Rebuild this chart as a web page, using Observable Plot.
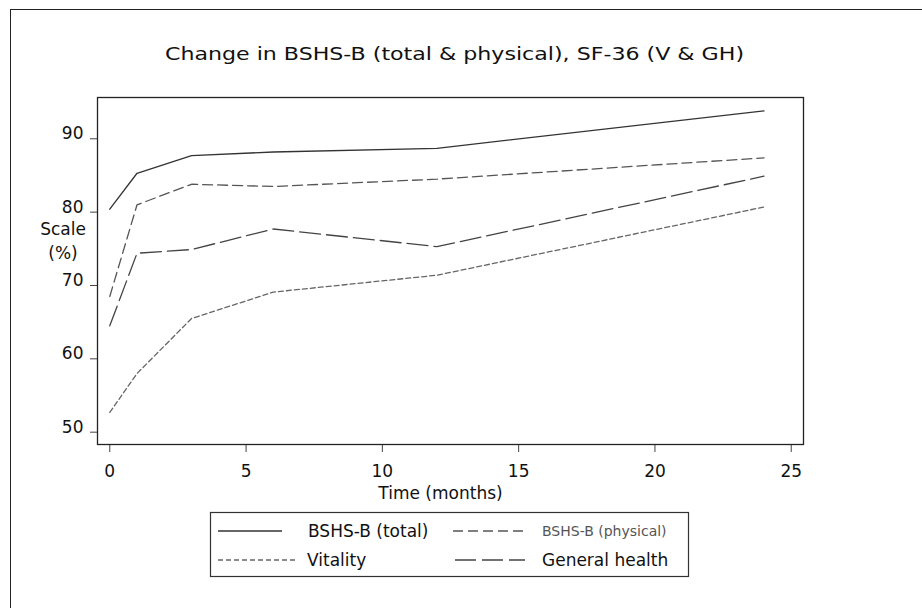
<!DOCTYPE html>
<html>
<head>
<meta charset="utf-8">
<script src="https://cdn.jsdelivr.net/npm/d3@7"></script>
<script src="https://cdn.jsdelivr.net/npm/@observablehq/plot@0.6"></script>
<style>
  html, body { margin: 0; padding: 0; background: #fff; }
  #wrap { position: relative; width: 922px; height: 608px; overflow: hidden; background: #fff; font-family: "DejaVu Sans", sans-serif; }
  #outer { position: absolute; left: 10px; top: 9px; width: 920px; height: 610px; border-top: 1.5px solid #222; border-left: 1.5px solid #222; z-index: 10; pointer-events: none; }
  #title { position: absolute; left: 0; top: 0; }
  #chart { position: absolute; left: 0; top: 80px; }
  #legend { position: absolute; left: 0; top: 500px; }
</style>
</head>
<body>
<div id="wrap">
  <div id="title"></div>
  <div id="chart"></div>
  <div id="legend"></div>
  <div id="outer"></div>
</div>
<script>
// ---- data ----
const titleText = "Change in BSHS-B (total & physical), SF-36 (V & GH)";
const months = [0, 1, 3, 6, 12, 24];
const seriesNames = ["BSHS-B (total)", "BSHS-B (physical)", "Vitality", "General health"];
const bshsTotal    = [80.4, 85.3, 87.7, 88.2, 88.7, 93.8];
const bshsPhysical = [68.5, 81.0, 83.8, 83.5, 84.5, 87.4];
const vitality     = [52.7, 58.0, 65.5, 69.1, 71.4, 80.7];
const generalHealth= [64.5, 74.4, 74.9, 77.7, 75.3, 84.9];
const xTicks = [0, 5, 10, 15, 20, 25];
const yTicks = [50, 60, 70, 80, 90];
const xLabel = "Time (months)";
const yLabel = "Scale\n(%)";

// ---- styles (not data) ----
const styles = {
  "BSHS-B (total)":    {stroke: "#333", dash: null,   values: bshsTotal},
  "BSHS-B (physical)": {stroke: "#555", dash: "10,5", values: bshsPhysical},
  "Vitality":          {stroke: "#666", dash: "5,3",  values: vitality},
  "General health":    {stroke: "#444", dash: "21,6", values: generalHealth}
};

const rows = [];
for (const name of seriesNames) {
  styles[name].values.forEach((v, i) => rows.push({series: name, month: months[i], value: v}));
}

// ---- title ----
const tsvg = d3.create("svg").attr("width", 922).attr("height", 80);
tsvg.append("text")
  .attr("transform", "translate(454.5,60) scale(1.23,1)")
  .attr("text-anchor", "middle")
  .attr("font-family", "DejaVu Sans, sans-serif")
  .attr("font-size", 18)
  .attr("fill", "#111")
  .text(titleText);
document.getElementById("title").append(tsvg.node());

// ---- chart ----
const font = 17;
const chart = Plot.plot({
  width: 922,
  height: 425,
  marginTop: 17,
  marginBottom: 61,
  marginLeft: 97,
  marginRight: 119,
  style: {fontFamily: "DejaVu Sans, sans-serif", fontSize: font + "px", color: "#111", background: "transparent"},
  x: {domain: [-0.45, 25.45], ticks: xTicks},
  y: {domain: [48.32, 95.63], ticks: yTicks},
  marks: [
    Plot.axisX({ticks: xTicks, tickSize: 8, tickPadding: 12, label: null, fontSize: font, stroke: "#444", tickFormat: d => String(d)}),
    Plot.axisY({ticks: yTicks, tickSize: 7, label: null, stroke: "#444", tickFormat: () => ""}),
    Plot.text(yTicks, {y: d => d, text: d => String(d), frameAnchor: "left", dx: -14, dy: -5, textAnchor: "end", fontSize: font, fill: "#111"}),
    ...seriesNames.map(name => Plot.line(rows.filter(r => r.series === name), {
      x: "month", y: "value",
      stroke: styles[name].stroke,
      strokeWidth: 1.3,
      strokeDasharray: styles[name].dash,
      strokeLinejoin: "miter"
    })),
    Plot.frame({stroke: "#222", strokeWidth: 1.3}),
    Plot.text([xLabel], {frameAnchor: "bottom", dx: -10, dy: 49, fontSize: font, fill: "#111", lineAnchor: "middle"}),
    Plot.text([yLabel], {frameAnchor: "left", dx: -34.5, dy: -32, fontSize: font, fill: "#111", lineAnchor: "middle", textAnchor: "middle", lineHeight: 1.43})
  ]
});
document.getElementById("chart").append(chart);

// ---- legend (below the chart) ----
const lsvg = d3.create("svg").attr("width", 922).attr("height", 108)
  .attr("font-family", "DejaVu Sans, sans-serif");
const oy = 500; // legend svg top in page
lsvg.append("rect").attr("x", 210.5).attr("y", 512.5 - oy).attr("width", 478).attr("height", 64)
  .attr("fill", "none").attr("stroke", "#333").attr("stroke-width", 1.2);
const legendLayout = [
  {name: "BSHS-B (total)",    x1: 218, x2: 282, ly: 531, tx: 308, ty: 537, size: 17, fill: "#111"},
  {name: "BSHS-B (physical)", x1: 453, x2: 525, ly: 531, tx: 542, ty: 536, size: 14, fill: "#555"},
  {name: "Vitality",          x1: 218, x2: 295, ly: 560, tx: 307, ty: 566, size: 17, fill: "#111"},
  {name: "General health",    x1: 455, x2: 525, ly: 560, tx: 542, ty: 566, size: 17, fill: "#111"}
];
for (const L of legendLayout) {
  const s = styles[L.name];
  lsvg.append("line").attr("x1", L.x1).attr("x2", L.x2).attr("y1", L.ly - oy).attr("y2", L.ly - oy)
    .attr("stroke", s.stroke).attr("stroke-width", 1.3).attr("stroke-dasharray", s.dash);
  lsvg.append("text").attr("x", L.tx).attr("y", L.ty - oy).attr("font-size", L.size).attr("fill", L.fill).text(L.name);
}
document.getElementById("legend").append(lsvg.node());
</script>
</body>
</html>
